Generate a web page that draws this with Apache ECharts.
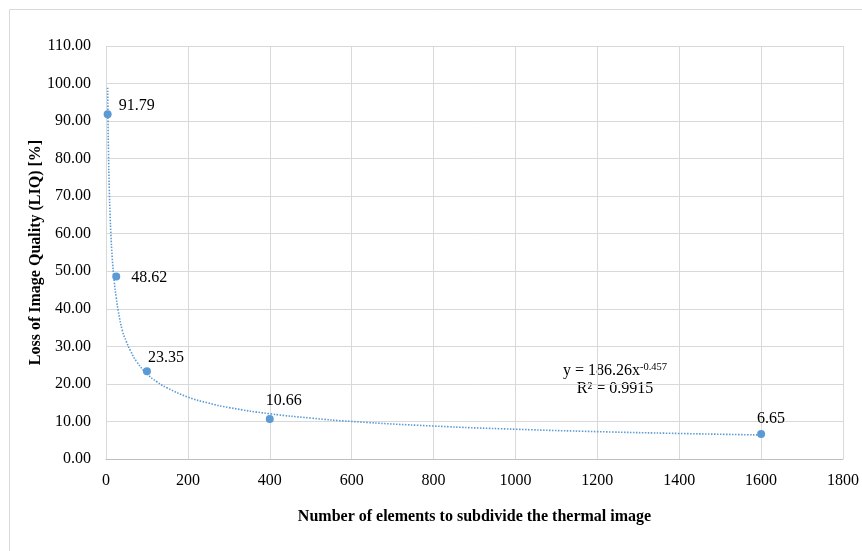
<!DOCTYPE html>
<html>
<head>
<meta charset="utf-8">
<script src="https://cdn.jsdelivr.net/npm/echarts@6/dist/echarts.min.js"></script>
<style>
html,body{margin:0;padding:0;background:#fff;}
#chart{width:862px;height:551px;}
</style>
</head>
<body>
<div id="chart"></div>
<script>
// Data
const elements = [4, 25, 100, 400, 1600];
const liq = [91.79, 48.62, 23.35, 10.66, 6.65];
// Trendline points
const trendX = [4, 5, 6, 8, 10, 12, 15, 20, 25, 30, 40, 50, 60, 75, 100, 125, 150, 200, 250, 300, 400, 500, 600, 800, 1000, 1200, 1400, 1600];
const trendY = [98.9, 89.3, 82.1, 72.0, 65.0, 59.8, 54.0, 47.4, 43.0, 39.4, 34.2, 31.2, 28.8, 25.9, 22.7, 20.5, 18.9, 16.5, 14.9, 13.7, 12.05, 10.9, 10.0, 8.78, 7.93, 7.29, 6.80, 6.40];
const xTicks = {min: 0, max: 1800, interval: 200};
const yTicks = {min: 0, max: 110, interval: 10};
const xTitle = 'Number of elements to subdivide the thermal image';
const yTitle = 'Loss of Image Quality (LIQ) [%]';
const eqLine1 = 'y = 186.26x';
const eqExp = '-0.457';
const eqLine2 = 'R² = 0.9915';

// label layout (not data)
const labelLayout = [
  {position: 'right', offset: [2, -9]},
  {position: 'right', offset: [6, 1]},
  {position: 'top', offset: [19, 3]},
  {position: 'top', offset: [14, -1]},
  {position: 'top', offset: [10, 2]}
];

const FONT = '"Liberation Serif", "Times New Roman", serif';
const TXT = '#000';
const BLUE = '#5b9bd5';

const chart = echarts.init(document.getElementById('chart'), null, {renderer: 'canvas'});

const scatterData = elements.map((x, i) => ({
  value: [x, liq[i]],
  label: {
    position: labelLayout[i].position,
    offset: labelLayout[i].offset
  }
}));

chart.setOption({
  animation: false,
  backgroundColor: '#fff',
  grid: {left: 106, top: 46, right: 19, bottom: 92, containLabel: false},
  xAxis: {
    type: 'value', min: xTicks.min, max: xTicks.max, interval: xTicks.interval,
    name: xTitle, nameLocation: 'middle', nameGap: 50, nameMoveOverlap: false,
    nameTextStyle: {fontFamily: FONT, fontSize: 16, fontWeight: 'bold', color: TXT},
    axisLine: {show: true, lineStyle: {color: '#bfbfbf', width: 1}},
    axisTick: {show: false},
    splitLine: {show: true, lineStyle: {color: '#d9d9d9', width: 1}},
    axisLabel: {fontFamily: FONT, fontSize: 16, color: TXT, margin: 14, formatter: v => String(v)}
  },
  yAxis: {
    type: 'value', min: yTicks.min, max: yTicks.max, interval: yTicks.interval,
    name: yTitle, nameLocation: 'middle', nameGap: 62, nameRotate: 90, nameMoveOverlap: false,
    nameTextStyle: {fontFamily: FONT, fontSize: 16, fontWeight: 'bold', color: TXT},
    axisLine: {show: false},
    axisTick: {show: false},
    splitLine: {show: true, lineStyle: {color: '#d9d9d9', width: 1}},
    axisLabel: {fontFamily: FONT, fontSize: 16, color: TXT, margin: 15, formatter: v => v.toFixed(2)}
  },
  series: [
    {
      type: 'line',
      data: trendX.map((x, i) => [x, trendY[i]]),
      smooth: true,
      showSymbol: false,
      lineStyle: {color: BLUE, width: 1.6, type: [1.5, 1.5]},
      silent: true,
      z: 2
    },
    {
      type: 'scatter',
      data: scatterData,
      symbol: 'circle',
      symbolSize: 8,
      itemStyle: {color: BLUE, opacity: 1},
      label: {
        show: true,
        formatter: p => p.value[1].toFixed(2),
        fontFamily: FONT, fontSize: 16, color: '#000',
        textBorderWidth: 0, opacity: 1
      },
      emphasis: {disabled: true},
      z: 3
    }
  ],
  graphic: [
    {
      type: 'rect', left: 7, top: 7, silent: true, z: -10,
      shape: {x: 0, y: 0, width: 900, height: 600},
      style: {fill: 'none', stroke: '#d9d9d9', lineWidth: 1}
    },
    {
      type: 'text', x: 615, y: 371, silent: true,
      style: {
        text: '{a|' + eqLine1 + '}{s|' + eqExp + '}',
        align: 'center', verticalAlign: 'middle',
        rich: {
          a: {fontFamily: FONT, fontSize: 16, fill: TXT, color: TXT},
          s: {fontFamily: FONT, fontSize: 10.5, fill: TXT, color: TXT, verticalAlign: 'top', padding: [0, 0, 8, 0]}
        }
      }
    },
    {
      type: 'text', x: 615, y: 389, silent: true,
      style: {
        text: eqLine2, align: 'center', verticalAlign: 'middle',
        fontFamily: FONT, fontSize: 16, fill: TXT
      }
    }
  ]
});
</script>
</body>
</html>
